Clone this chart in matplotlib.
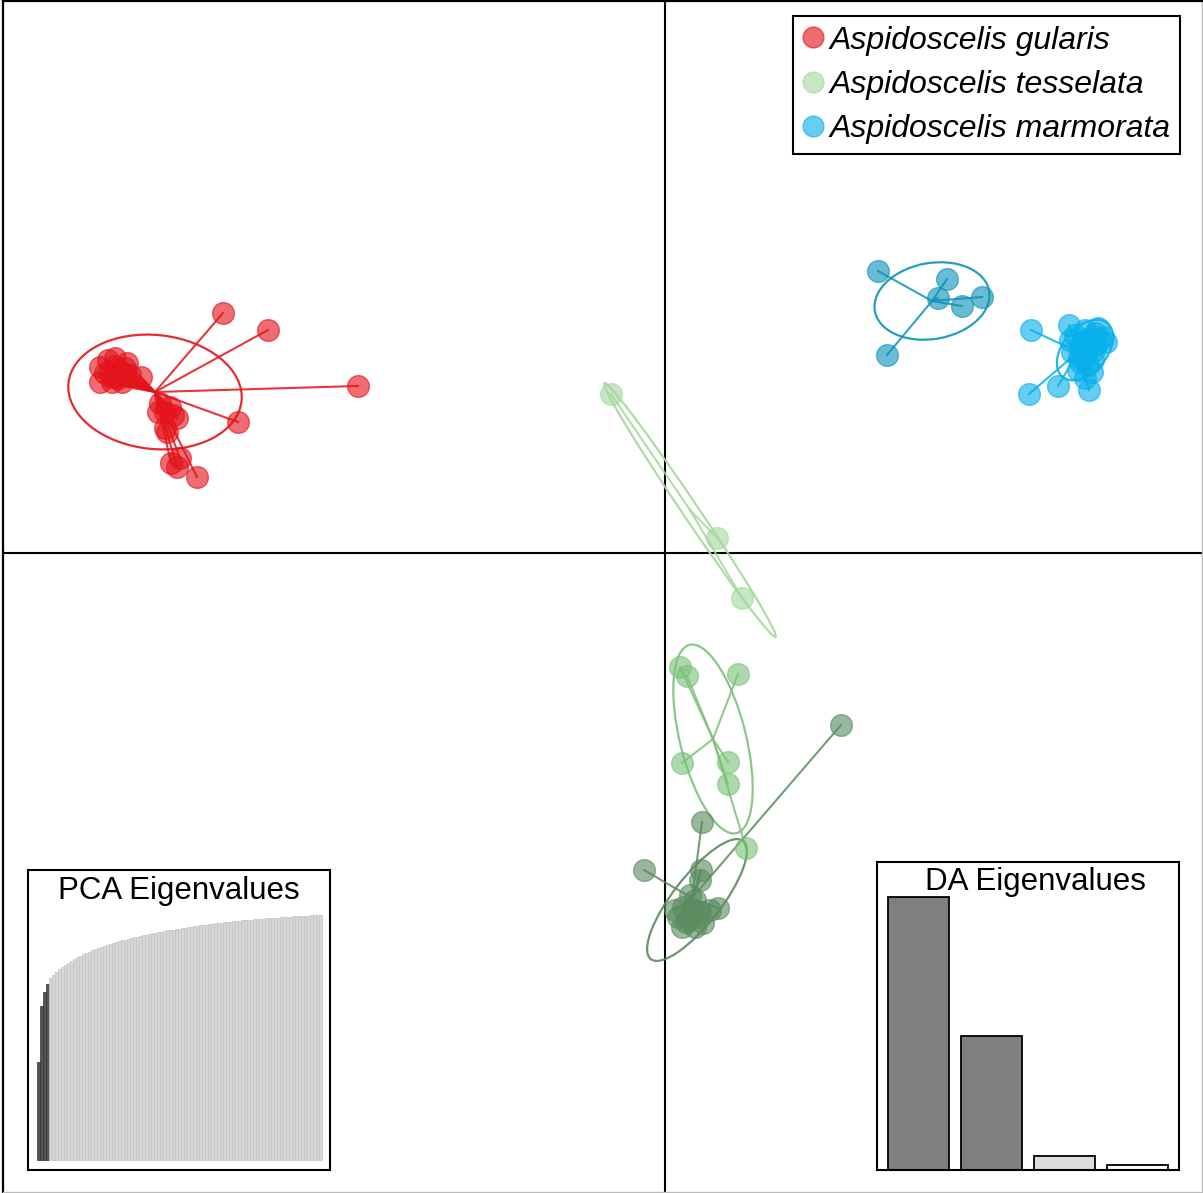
import matplotlib
matplotlib.use("Agg")
import matplotlib.pyplot as plt
from matplotlib.patches import Ellipse
from matplotlib.lines import Line2D

plt.rcParams['font.family'] = ['Liberation Sans', 'DejaVu Sans']

# DAPC scores (LD1, LD2) per cluster
red_x = [-8.84, -7.94, -6.14, -8.54, -9.36, -9.88, -9.76, -9.70, -9.96, -9.76, -10.00, -10.10,
         -9.90, -10.14, -9.84, -10.00, -10.48, -11.14, -11.00, -10.76, -11.30, -11.30, -11.06,
         -10.86, -11.20, -10.94, -11.10, -10.84, -10.70, -11.06, -10.94, -11.00, -10.80]
red_y = [4.80, 4.46, 3.34, 2.62, 1.52, 1.80, 1.72, 1.90, 2.42, 2.70, 2.82, 3.00,
         2.92, 2.82, 2.76, 2.50, 3.52, 3.86, 3.90, 3.80, 3.72, 3.42, 3.42,
         3.42, 3.60, 3.62, 3.62, 3.60, 3.56, 3.52, 3.50, 3.74, 3.70]

dblue_x = [4.26, 5.64, 5.46, 5.94, 6.34, 4.44]
dblue_y = [5.64, 5.48, 5.10, 4.94, 5.12, 3.96]

lblue_x = [7.32, 8.08, 7.28, 7.86, 8.48, 8.20, 8.40, 8.60, 8.70, 8.50, 8.30, 8.14, 8.40, 8.60,
           8.76, 8.46, 8.30, 8.54, 8.40, 8.26, 8.66, 8.10, 8.50, 8.36, 8.62, 8.44, 8.28, 8.82, 8.56]
lblue_y = [4.46, 4.56, 3.18, 3.34, 3.26, 4.36, 4.46, 4.40, 4.26, 4.16, 4.10, 4.02, 3.96, 4.06,
           4.32, 3.76, 3.82, 3.62, 3.50, 3.66, 4.50, 4.26, 4.30, 4.22, 4.16, 4.06, 3.92, 4.22, 3.86]

pgreen_x = [-1.08, 1.04, 1.54]
pgreen_y = [3.18, 0.30, -0.90]

mgreen_x = [0.30, 0.44, 1.46, 0.34, 1.26, 1.26, 1.62]
mgreen_y = [-2.28, -2.46, -2.42, -4.20, -4.18, -4.62, -5.90]

dgreen_x = [3.52, 0.74, -0.42, 0.72, 0.70, 1.06, 0.36, 0.60, 0.26, 0.46, 0.66, 0.54, 0.34,
            0.60, 0.76, 0.90, 0.20, 0.50, 0.42, 0.70]
dgreen_y = [-3.44, -5.38, -6.34, -6.34, -6.54, -7.10, -7.08, -6.94, -7.28, -7.34, -7.28, -7.14,
            -7.48, -7.48, -7.40, -7.14, -7.14, -6.84, -7.38, -7.18]

# group centroids and 95% inertia ellipses: (cx, cy), (ex, ey, width, height, angle)
centroids = [(-10.20, 3.22), (5.34, 5.04), (8.26, 4.02), (0.50, 0.86), (0.96, -3.72), (0.54, -6.90)]
ellipses = [(-10.20, 3.22, 3.48, 2.28, -6), (5.34, 5.04, 2.32, 1.52, 10),
            (8.40, 4.06, 1.40, 0.88, 50), (0.50, 0.86, 6.12, 0.32, -56),
            (0.96, -3.72, 3.88, 1.32, -76), (0.64, -6.94, 3.00, 0.96, 52)]
colors = ["#E3141C", "#0E93BA", "#08B0EC", "#A6D89E", "#7CC27A", "#5A8C5F"]

legend_labels = ["Aspidoscelis gularis", "Aspidoscelis tesselata", "Aspidoscelis marmorata"]
legend_colors = ["#E3141C", "#A6D89E", "#08B0EC"]

# cumulative PCA eigenvalues (% of max), first 4 retained
pca_eig = [40.0, 63.0, 68.6, 71.8, 74.2, 75.6, 76.8, 77.9, 78.9, 79.8, 80.6, 81.4, 82.1, 82.8,
           83.4, 84.0, 84.6, 85.1, 85.6, 86.1, 86.6, 87.0, 87.4, 87.8, 88.2, 88.6, 89.0, 89.3,
           89.7, 90.0, 90.3, 90.6, 90.9, 91.2, 91.5, 91.8, 92.0, 92.3, 92.5, 92.8, 93.0, 93.2,
           93.5, 93.7, 93.9, 94.1, 94.3, 94.5, 94.7, 94.9, 95.1, 95.3, 95.5, 95.6, 95.8, 96.0,
           96.1, 96.3, 96.4, 96.6, 96.7, 96.9, 97.0, 97.1, 97.3, 97.4, 97.5, 97.6, 97.8, 97.9,
           98.0, 98.1, 98.2, 98.3, 98.4, 98.5, 98.6, 98.7, 98.8, 98.9, 99.0, 99.1, 99.2, 99.3,
           99.4, 99.5, 99.55, 99.6, 99.7, 99.75, 99.8, 99.85, 99.9, 99.95, 100.0]
pca_retained = 4

da_eig = [100.0, 49.1, 5.1, 1.8]
da_colors = ["#7f7f7f", "#7f7f7f", "#dcdcdc", "#ffffff"]

W, H = 1203, 1193
fig = plt.figure(figsize=(W / 100, H / 100), dpi=100)
ax = fig.add_axes([3 / W, 1 / H, 1199 / W, 1191 / H])
ax.set_xlim(-13.24, 10.74)
ax.set_ylim(-12.78, 11.04)
ax.set_xticks([])
ax.set_yticks([])
for s in ["left", "top"]:
    ax.spines[s].set_linewidth(1.6)
for s in ["right", "bottom"]:
    ax.spines[s].set_color("#bbbbbb")
    ax.spines[s].set_linewidth(1)

ax.axhline(0, color="black", lw=1.5, zorder=1)
ax.axvline(0, color="black", lw=1.5, zorder=1)

groups = [(red_x, red_y), (dblue_x, dblue_y), (lblue_x, lblue_y),
          (pgreen_x, pgreen_y), (mgreen_x, mgreen_y), (dgreen_x, dgreen_y)]

for (gx, gy), (cx, cy), el, col in zip(groups, centroids, ellipses, colors):
    for px, py in zip(gx, gy):
        ax.plot([cx, px], [cy, py], color=col, lw=1.5, alpha=0.85, zorder=2)
    ax.add_patch(Ellipse((el[0], el[1]), el[2], el[3], angle=el[4], fill=False,
                         edgecolor=col, lw=1.6, alpha=0.9, zorder=2))
    ax.scatter(gx, gy, s=245, color=col, alpha=0.62, edgecolors=col, linewidths=1, zorder=3)

handles = [Line2D([], [], marker="o", linestyle="none", markersize=15, color=c,
                  alpha=0.62, markeredgecolor=c) for c in legend_colors]
leg = ax.legend(handles, legend_labels, loc="upper right",
                bbox_to_anchor=(1180 / W, 1 - 16 / H), bbox_transform=fig.transFigure,
                prop={"style": "italic", "size": 23}, frameon=True, fancybox=False,
                framealpha=1, edgecolor="black", borderpad=0.3, labelspacing=0.45,
                handlelength=0.65, handletextpad=0.2, borderaxespad=0)
leg.get_frame().set_linewidth(1.5)

# PCA eigenvalues inset
ax1 = fig.add_axes([28 / W, 23 / H, 302 / W, 300 / H])
n = len(pca_eig)
pos = list(range(1, n + 1))
bar_cols = ["#555555" if i < pca_retained else "#d6d6d6" for i in range(n)]
edge_cols = ["#333333" if i < pca_retained else "#c4c4c4" for i in range(n)]
ax1.bar(pos, pca_eig, width=1, color=bar_cols, edgecolor=edge_cols, linewidth=0.5)
ax1.set_xlim(-2.5, 98.2)
ax1.set_ylim(-4.08, 118.4)
ax1.set_xticks([])
ax1.set_yticks([])
for s in ax1.spines.values():
    s.set_linewidth(1.5)
ax1.text(0.5, 1 - 21 / 300, "PCA Eigenvalues", transform=ax1.transAxes,
         ha="center", va="center", fontsize=22.5)

# DA eigenvalues inset
ax2 = fig.add_axes([877 / W, 23 / H, 302 / W, 308 / H])
da_pos = [0.7 + 1.2 * i for i in range(len(da_eig))]
ax2.bar(da_pos, da_eig, width=1, color=da_colors, edgecolor="black", linewidth=1.3)
ax2.set_xlim(0.02, 4.98)
ax2.set_ylim(0, 112.8)
ax2.set_xticks([])
ax2.set_yticks([])
for s in ax2.spines.values():
    s.set_linewidth(1.5)
ax2.text(0.525, 1 - 20 / 308, "DA Eigenvalues", transform=ax2.transAxes,
         ha="center", va="center", fontsize=22.5)

fig.savefig("out.png", dpi=100)
